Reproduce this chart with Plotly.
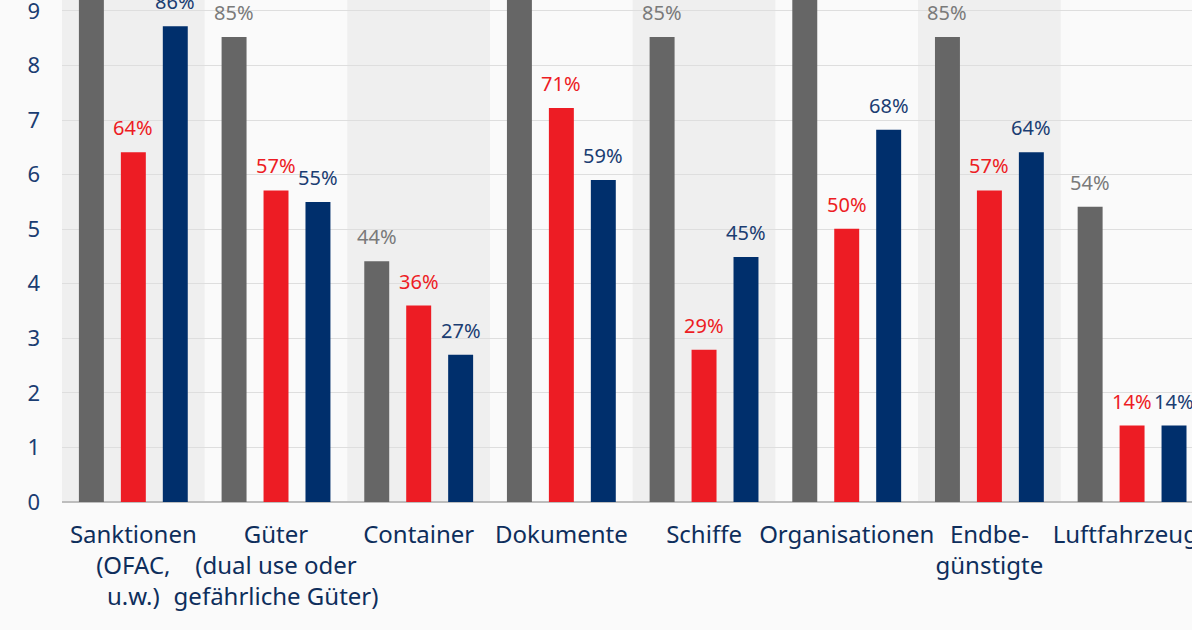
import plotly.graph_objects as go

categories = ["Sanktionen<br>(OFAC,<br>u.w.)", "Güter<br>(dual use oder<br>gefährliche Güter)", "Container",
              "Dokumente", "Schiffe", "Organisationen", "Endbe-<br>günstigte", "Luftfahrzeuge"]
gray_vals = [9.8, 8.52, 4.41, 9.8, 8.52, 9.8, 8.52, 5.41]
gray_text = ["98%", "85%", "44%", "98%", "85%", "98%", "85%", "54%"]
red_vals = [6.41, 5.71, 3.6, 7.22, 2.79, 5.01, 5.71, 1.4]
red_text = ["64%", "57%", "36%", "71%", "29%", "50%", "57%", "14%"]
blue_vals = [8.72, 5.5, 2.7, 5.9, 4.49, 6.82, 6.41, 1.4]
blue_text = ["86%", "55%", "27%", "59%", "45%", "68%", "64%", "14%"]

FONT = "Noto Sans"
series = [
    (gray_vals, gray_text, "#666666", "#7a7a7a", -42),
    (red_vals, red_text, "#ed1c24", "#ed1c24", 0),
    (blue_vals, blue_text, "#002f6c", "#1b3d72", 42),
]

fig = go.Figure()
annotations = []
for vals, texts, col, tcol, dx in series:
    fig.add_trace(go.Bar(x=list(range(len(categories))), y=vals, marker_color=col,
                         marker_line_width=0, hoverinfo="skip"))
    for i, (v, t) in enumerate(zip(vals, texts)):
        annotations.append(dict(x=i, y=v, xref="x", yref="y", text=t, showarrow=False,
                                xshift=dx, yshift=9, yanchor="bottom",
                                font=dict(family=FONT, size=20, color=tcol)))

shapes = []
for i in range(len(categories)):
    if i % 2 == 0:
        shapes.append(dict(type="rect", xref="x", yref="paper", x0=i - 0.5, x1=i + 0.5,
                           y0=0, y1=1, fillcolor="#efefef", line_width=0, layer="below"))

fig.update_layout(
    width=1192, height=630,
    margin=dict(l=62, r=0, t=0, b=128, autoexpand=False),
    paper_bgcolor="#fafafa", plot_bgcolor="#fafafa",
    barmode="group", bargap=0.118, bargroupgap=0.405,
    showlegend=False,
    shapes=shapes, annotations=annotations,
    font=dict(family=FONT, color="#0e2e5c"),
)
fig.update_xaxes(
    range=[-0.5, 7.42], tickmode="array", tickvals=list(range(len(categories))),
    ticktext=categories, tickfont=dict(family=FONT, size=24, color="#0e2e5c"),
    tickangle=0, automargin=False, ticklabeloverflow="allow",
    showgrid=False, showline=False, zeroline=False, ticklabelstandoff=16,
)
fig.update_yaxes(
    range=[0, 9.2], dtick=1, tickfont=dict(family=FONT, size=22, color="#1b3d72"),
    showgrid=True, gridcolor="#dedede", gridwidth=1, automargin=False,
    ticklabeloverflow="allow",
    zeroline=True, zerolinecolor="#bdbdbd", zerolinewidth=2,
    ticklabelstandoff=21, showline=False,
)
fig.write_html("out.html", config={"displayModeBar": False},
               post_script="document.body.style.margin='0';document.body.style.overflow='hidden';")
